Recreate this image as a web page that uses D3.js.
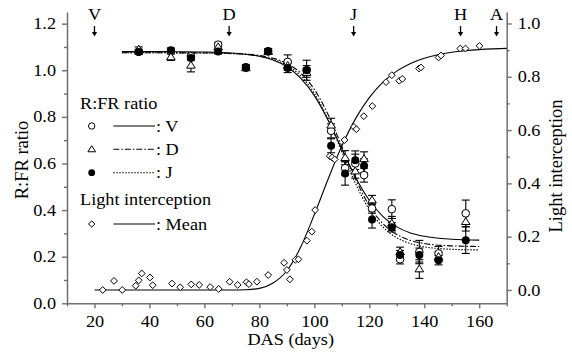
<!DOCTYPE html>
<html><head><meta charset="utf-8">
<script src="https://cdn.jsdelivr.net/npm/d3@7"></script>
<style>
body{margin:0;background:#fff}
svg{display:block}
text{font-family:"Liberation Serif","Times New Roman",serif;fill:#000}
</style>
</head><body>
<svg id="c" width="572" height="352"></svg>
<script>
// ---------- data ----------
const dasRFR = [36.1, 47.8, 55.1, 65, 75.1, 83.2, 90.3, 97.2, 106.1, 111.2, 114.9, 118.1, 121, 128.2, 131.2, 138.2, 145.2, 155.1];
const rfrV = [1.08, 1.08, 1.06, 1.11, 1.01, 1.08, 1.036, 1.0, 0.74, 0.58, 0.60, 0.55, 0.407, 0.404, 0.189, 0.22, 0.214, 0.386];
const errV = [0.01, 0.01, 0.01, 0.01, 0.01, 0.01, 0.03, 0.02, 0.03, 0.03, 0.04, 0.03, 0.02, 0.04, 0.02, 0.05, 0.03, 0.057];
const rfrD = [1.09, 1.057, 1.021, 1.10, 1.01, 1.08, 1.02, 0.99, 0.764, 0.625, 0.567, 0.62, 0.443, 0.343, 0.221, 0.147, 0.20, 0.35];
const errD = [0.01, 0.015, 0.028, 0.01, 0.01, 0.01, 0.02, 0.02, 0.03, 0.03, 0.03, 0.03, 0.02, 0.03, 0.02, 0.04, 0.02, 0.04];
const rfrJ = [1.078, 1.086, 1.053, 1.08, 1.014, 1.083, 1.01, 1.0, 0.676, 0.557, 0.614, 0.59, 0.36, 0.326, 0.207, 0.207, 0.185, 0.271];
const errJ = [0.01, 0.01, 0.01, 0.01, 0.01, 0.01, 0.02, 0.043, 0.03, 0.05, 0.04, 0.03, 0.037, 0.02, 0.02, 0.03, 0.02, 0.057];

const fitDas = [30, 40, 50, 60, 70, 80, 85, 90, 95, 100, 105, 110, 115, 120, 125, 130, 135, 140, 150, 160];
const fitV = [1.08, 1.08, 1.0795, 1.0783, 1.0742, 1.060, 1.044, 1.015, 0.966, 0.891, 0.786, 0.662, 0.541, 0.442, 0.372, 0.328, 0.302, 0.2875, 0.275, 0.271];
const fitD = [1.075, 1.075, 1.0748, 1.0743, 1.072, 1.063, 1.0515, 1.0294, 0.9884, 0.918, 0.8106, 0.6734, 0.5331, 0.4186, 0.341, 0.295, 0.2698, 0.2566, 0.2464, 0.2438];
const fitJ = [1.075, 1.075, 1.0747, 1.074, 1.0712, 1.0605, 1.047, 1.0218, 0.9764, 0.9008, 0.7894, 0.6515, 0.5136, 0.4022, 0.3266, 0.2812, 0.256, 0.2424, 0.2318, 0.229];

const lightDas = [23, 27.1, 30.1, 35, 36.1, 37.2, 40.2, 41.2, 48.2, 51.2, 55.2, 58.1, 62.1, 65.2, 69.2, 72.1, 75.3, 76.2, 79.1, 83.2, 89, 90, 91.1, 93.1, 94.2, 97.3, 99.1, 100.3, 105.6, 106.5, 107.4, 111, 114.4, 115.3, 118, 121.1, 126.1, 128.2, 130.9, 132, 138.1, 138.8, 145.2, 146.1, 153.1, 155, 160.1];
const lightVal = [0.0, 0.034, 0.0, 0.016, 0.036, 0.062, 0.047, 0.018, 0.024, 0.010, 0.021, 0.019, 0.011, 0.004, 0.031, 0.019, 0.029, 0.022, 0.031, 0.056, 0.102, 0.075, 0.04, 0.113, 0.115, 0.185, 0.219, 0.30, 0.502, 0.497, 0.49, 0.5625, 0.612, 0.603, 0.652, 0.69, 0.78, 0.806, 0.785, 0.792, 0.831, 0.835, 0.8725, 0.88, 0.906, 0.906, 0.916];
const lightFitDas = [20, 40, 60, 70, 75, 80, 85, 90, 95, 100, 105, 110, 115, 120, 125, 130, 135, 140, 145, 150, 155, 160, 165, 170];
const lightFit = [0, 0, 0, 0, 0.001, 0.006, 0.026, 0.072, 0.16, 0.283, 0.4157, 0.540, 0.643, 0.722, 0.780, 0.821, 0.850, 0.8695, 0.8828, 0.8918, 0.8978, 0.9019, 0.9046, 0.9064];

const xTicks = [20, 40, 60, 80, 100, 120, 140, 160];
const xMinor = [10, 30, 50, 70, 90, 110, 130, 150, 170];
const leftTicks = [0, 0.2, 0.4, 0.6, 0.8, 1.0, 1.2];
const leftMinor = [0.1, 0.3, 0.5, 0.7, 0.9, 1.1];
const rightTicks = [0, 0.2, 0.4, 0.6, 0.8, 1.0];
const rightMinor = [0.1, 0.3, 0.5, 0.7, 0.9];
const stageLabels = ["V", "D", "J", "H", "A"];
const stageDas = [20, 69, 114.3, 153.2, 166.3];

// ---------- layout ----------
const SX = 1.14, FS = 16;
const svg = d3.select("#c");
const L = 67, R = 506.7, T = 12, B = 303.3;
const x = d3.scaleLinear().domain([10, 170]).range([L, R]);
const yL = d3.scaleLinear().domain([0, 1.25]).range([B, T]);
const yR = d3.scaleLinear().domain([-0.05, 1.043]).range([B, T]);
const axisColor = "#6f6f6f";

function styleAxis(g) {
  g.select(".domain").attr("stroke", axisColor).attr("stroke-width", 1.5);
  g.selectAll(".tick line").attr("stroke", axisColor).attr("stroke-width", 1.4);
  g.selectAll(".tick text").attr("font-size", FS).attr("font-family", "Liberation Serif").attr("fill", "#000")
    .each(function () {
      const t = d3.select(this);
      const xv = +t.attr("x") || 0;
      t.attr("x", xv / SX).attr("transform", `scale(${SX},1)`);
    });
}
function minor(axisGen, g) {
  g.call(axisGen).call(s => s.select(".domain").remove());
  g.selectAll(".tick line").attr("stroke", axisColor).attr("stroke-width", 1.4);
  g.selectAll(".tick text").remove();
}

// axes
svg.append("g").attr("transform", `translate(0,${B})`)
  .call(d3.axisBottom(x).tickValues(xTicks).tickSize(5).tickPadding(7).tickSizeOuter(0).tickFormat(d3.format("d"))).call(styleAxis);
minor(d3.axisBottom(x).tickValues(xMinor).tickSize(3), svg.append("g").attr("transform", `translate(0,${B})`));
svg.append("g").attr("transform", `translate(${L},0)`)
  .call(d3.axisLeft(yL).tickValues(leftTicks).tickSize(5).tickPadding(6).tickSizeOuter(0).tickFormat(d3.format(".1f"))).call(styleAxis);
minor(d3.axisLeft(yL).tickValues(leftMinor).tickSize(3), svg.append("g").attr("transform", `translate(${L},0)`));
svg.append("g").attr("transform", `translate(${R},0)`)
  .call(d3.axisRight(yR).tickValues(rightTicks).tickSize(5).tickPadding(6).tickSizeOuter(0).tickFormat(d3.format(".1f"))).call(styleAxis);
minor(d3.axisRight(yR).tickValues(rightMinor).tickSize(3), svg.append("g").attr("transform", `translate(${R},0)`));

// axis titles
svg.append("text").attr("transform", `translate(${290.7},345) scale(${SX},1)`).attr("text-anchor", "middle").attr("font-size", FS).text("DAS (days)");
svg.append("text").attr("transform", "translate(28,160) rotate(-90)").attr("text-anchor", "middle").attr("font-size", 18.5).text("R:FR ratio");
svg.append("text").attr("transform", "translate(562,166) rotate(-90)").attr("text-anchor", "middle").attr("font-size", 18.5).text("Light interception");

// stage arrows
const st = svg.append("g");
stageLabels.forEach((s, i) => {
  const cx = x(stageDas[i]);
  st.append("text").attr("transform", `translate(${cx},20) scale(${SX},1)`).attr("text-anchor", "middle").attr("font-size", FS).text(s);
  st.append("line").attr("x1", cx).attr("x2", cx).attr("y1", 26).attr("y2", 33).attr("stroke", "#000").attr("stroke-width", 1.3);
  st.append("path").attr("d", `M${cx - 2.6},32 L${cx + 2.6},32 L${cx},36.5 Z`).attr("fill", "#000");
});

// fit lines
const lineL = (xs, ys) => d3.line().x((d, i) => x(xs[i])).y(d => yL(d)).curve(d3.curveMonotoneX)(ys);
const lineR = (xs, ys) => d3.line().x((d, i) => x(xs[i])).y(d => yR(d)).curve(d3.curveMonotoneX)(ys);
const plot = svg.append("g");
plot.append("path").attr("d", lineR(lightFitDas, lightFit)).attr("fill", "none").attr("stroke", "#000").attr("stroke-width", 1.1);
plot.append("path").attr("d", lineL(fitDas, fitD)).attr("fill", "none").attr("stroke", "#000").attr("stroke-width", 1.1).attr("stroke-dasharray", "6,2,1.5,2");
plot.append("path").attr("d", lineL(fitDas, fitJ)).attr("fill", "none").attr("stroke", "#000").attr("stroke-width", 1.1).attr("stroke-dasharray", "1.5,1.5");
plot.append("path").attr("d", lineL(fitDas, fitV)).attr("fill", "none").attr("stroke", "#000").attr("stroke-width", 1.1);

// error bars
function errBars(vals, errs) {
  const g = plot.append("g").attr("stroke", "#000").attr("stroke-width", 1.1);
  dasRFR.forEach((d, i) => {
    const cx = x(d), y1 = yL(vals[i] + errs[i]), y2 = yL(vals[i] - errs[i]);
    g.append("line").attr("x1", cx).attr("x2", cx).attr("y1", y1).attr("y2", y2);
    g.append("line").attr("x1", cx - 4).attr("x2", cx + 4).attr("y1", y1).attr("y2", y1);
    g.append("line").attr("x1", cx - 4).attr("x2", cx + 4).attr("y1", y2).attr("y2", y2);
  });
}
errBars(rfrV, errV); errBars(rfrD, errD); errBars(rfrJ, errJ);

const triPath = (cx, cy, s) => `M${cx},${cy - s * 0.95} L${cx + s},${cy + s * 0.65} L${cx - s},${cy + s * 0.65} Z`;
const diaPath = (cx, cy, s) => `M${cx},${cy - s} L${cx + s},${cy} L${cx},${cy + s} L${cx - s},${cy} Z`;

// light interception diamonds
plot.selectAll(".dia").data(lightVal).enter().append("path")
  .attr("d", (d, i) => diaPath(x(lightDas[i]), yR(d), 3.4))
  .attr("fill", "#fff").attr("stroke", "#000").attr("stroke-width", 1);

// markers
plot.selectAll(".mv").data(rfrV).enter().append("circle")
  .attr("cx", (d, i) => x(dasRFR[i])).attr("cy", d => yL(d)).attr("r", 3.8)
  .attr("fill", "#fff").attr("stroke", "#000").attr("stroke-width", 1);
plot.selectAll(".md").data(rfrD).enter().append("path")
  .attr("d", (d, i) => triPath(x(dasRFR[i]), yL(d), 4.3))
  .attr("fill", "#fff").attr("stroke", "#000").attr("stroke-width", 1);
plot.selectAll(".mj").data(rfrJ).enter().append("circle")
  .attr("cx", (d, i) => x(dasRFR[i])).attr("cy", d => yL(d)).attr("r", 4)
  .attr("fill", "#000");

// legend
const lg = svg.append("g");
const lx = 80, mx = 91.7, l1 = 113.3, l2 = 155, tx = 156;
lg.append("text").attr("transform", `translate(${lx},108.5) scale(${SX},1)`).attr("font-size", FS).text("R:FR ratio");
const rows = [
  {y: 126, label: ": V", dash: null, mk: "circle"},
  {y: 149.3, label: ": D", dash: "6,2,1.5,2", mk: "tri"},
  {y: 172.7, label: ": J", dash: "1.5,1.5", mk: "dot"},
  {y: 224, label: ": Mean", dash: null, mk: "dia"}
];
lg.append("text").attr("transform", `translate(${lx},205) scale(${SX},1)`).attr("font-size", FS).text("Light interception");
rows.forEach(r => {
  if (r.mk === "circle") lg.append("circle").attr("cx", mx).attr("cy", r.y).attr("r", 3.2).attr("fill", "#fff").attr("stroke", "#000");
  if (r.mk === "dot") lg.append("circle").attr("cx", mx).attr("cy", r.y).attr("r", 3.4).attr("fill", "#000");
  if (r.mk === "tri") lg.append("path").attr("d", triPath(mx, r.y, 3.8)).attr("fill", "#fff").attr("stroke", "#000");
  if (r.mk === "dia") lg.append("path").attr("d", diaPath(mx, r.y, 3.2)).attr("fill", "#fff").attr("stroke", "#000");
  const ln = lg.append("line").attr("x1", l1).attr("x2", l2).attr("y1", r.y).attr("y2", r.y).attr("stroke", "#000").attr("stroke-width", 1.1);
  if (r.dash) ln.attr("stroke-dasharray", r.dash);
  lg.append("text").attr("transform", `translate(${tx},${r.y + 5.5}) scale(${SX},1)`).attr("font-size", FS).text(r.label);
});
</script>
</body></html>
